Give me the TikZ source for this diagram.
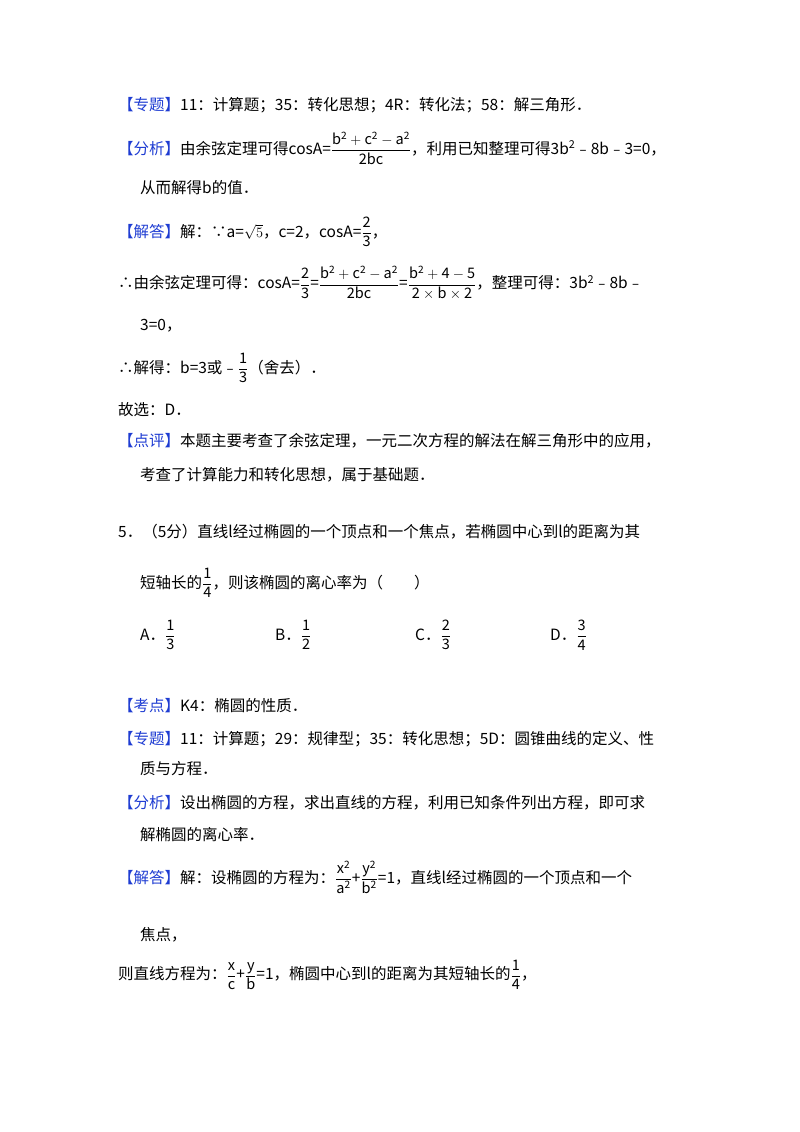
\documentclass[tikz,border=0pt]{standalone}
\usepackage{amsmath}
\usepackage{fontspec}
\setmainfont{Noto Sans CJK SC}
\definecolor{tagblue}{RGB}{30,60,210}
\newcommand{\tg}[1]{\textcolor{tagblue}{【#1】}}
\newcommand{\fr}[2]{{\fontsize{14.5}{14.5}\selectfont$\dfrac{\mathrm{#1}}{\mathrm{#2}}$}}
\begin{document}
\begin{tikzpicture}[x=1pt,y=1pt,t/.style={anchor=west,inner sep=0pt,font=\fontsize{15.5}{15.5}\selectfont}]
\useasboundingbox (0,0) rectangle (800,-1132);
\node[t] (l1) at (118,-105) {\tg{专题}11：计算题；35：转化思想；4R：转化法；58：解三角形．};
\node[t] (l2) at (118,-148) {\tg{分析}由余弦定理可得cosA=\fr{b^2+c^2-a^2}{2bc}，利用已知整理可得3b\textsuperscript{2}﹣8b﹣3=0，};
\node[t] (l3) at (140,-188) {从而解得b的值．};
\node[t] (l4) at (118,-232) {\tg{解答}解：∵a=$\sqrt{5}$，c=2，cosA=\fr{2}{3}，};
\node[t] (l5) at (118,-283) {∴由余弦定理可得：cosA=\fr{2}{3}=\fr{b^2+c^2-a^2}{2bc}=\fr{b^2+4-5}{2\times b\times 2}，整理可得：3b\textsuperscript{2}﹣8b﹣};
\node[t] (l6) at (140,-326) {3=0，};
\node[t] (l7) at (118,-368) {∴解得：b=3或﹣\fr{1}{3}（舍去）．};
\node[t] (l8) at (118,-410) {故选：D．};
\node[t] (l9) at (118,-441) {\tg{点评}本题主要考查了余弦定理，一元二次方程的解法在解三角形中的应用，};
\node[t] (l10) at (140,-475) {考查了计算能力和转化思想，属于基础题．};
\node[t] (l11) at (118,-532) {5．（5分）直线l经过椭圆的一个顶点和一个焦点，若椭圆中心到l的距离为其};
\node[t] (l12) at (140,-583) {短轴长的\fr{1}{4}，则该椭圆的离心率为（　　）};
\node[t] (oA) at (140,-635) {A．\fr{1}{3}};
\node[t] (oB) at (275,-635) {B．\fr{1}{2}};
\node[t] (oC) at (415,-635) {C．\fr{2}{3}};
\node[t] (oD) at (550,-635) {D．\fr{3}{4}};
\node[t] (l13) at (118,-706) {\tg{考点}K4：椭圆的性质．};
\node[t] (l14) at (118,-739) {\tg{专题}11：计算题；29：规律型；35：转化思想；5D：圆锥曲线的定义、性};
\node[t] (l15) at (140,-769) {质与方程．};
\node[t] (l16) at (118,-803) {\tg{分析}设出椭圆的方程，求出直线的方程，利用已知条件列出方程，即可求};
\node[t] (l17) at (140,-835) {解椭圆的离心率．};
\node[t] (l18) at (118,-877) {\tg{解答}解：设椭圆的方程为：\fr{x^2}{a^2}+\fr{y^2}{b^2}=1，直线l经过椭圆的一个顶点和一个};
\node[t] (l19) at (140,-935) {焦点，};
\node[t] (l20) at (118,-975) {则直线方程为：\fr{x}{c}+\fr{y}{b}=1，椭圆中心到l的距离为其短轴长的\fr{1}{4}，};
\end{tikzpicture}
\end{document}
